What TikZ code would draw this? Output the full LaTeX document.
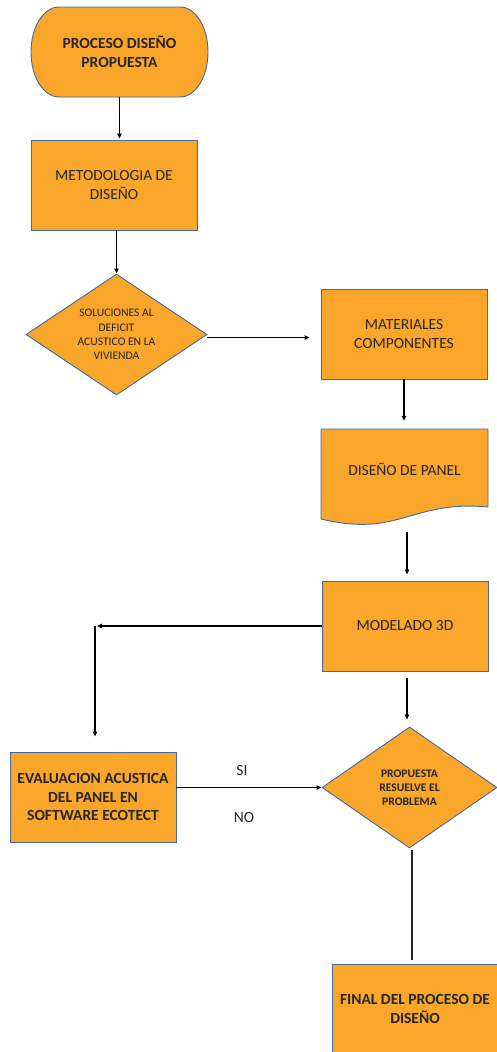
\documentclass[tikz,border=0pt]{standalone}
\usepackage{fontspec}
\setmainfont{Carlito}
\usetikzlibrary{shapes.geometric,arrows.meta}
\definecolor{boxfill}{RGB}{250,166,43}
\definecolor{boxline}{RGB}{68,104,160}
\definecolor{ink}{RGB}{38,38,38}
\newcommand\mainsz{\fontsize{15.5}{18.9}\selectfont}
\newcommand\smallsz{\fontsize{11.6}{14.2}\selectfont}
\tikzset{
  outline/.style={fill=boxfill, draw=boxline, line width=0.9pt},
  box/.style={rectangle, outline, minimum width=166pt, minimum height=90pt,
    inner sep=0pt, align=center, text=ink, font=\mainsz},
  boldbox/.style={box, font=\mainsz\bfseries},
  holder/.style={rectangle, inner sep=0pt, align=center, text=ink, font=\mainsz},
  choice/.style={diamond, outline, inner sep=0pt, aspect=1.5, align=center,
    text=ink, font=\smallsz},
  lbl/.style={inner sep=0pt, text=ink, font=\mainsz},
  flow/.style={draw=black, line width=1.2pt, -{Triangle[length=5pt,width=4.5pt]}},
  plain/.style={draw=black!85, line width=1.2pt},
}
\begin{document}
\begin{tikzpicture}[x=1pt,y=-1pt]
\useasboundingbox (0,0) rectangle (497,1052);
\clip (0,0) rectangle (497,1052);

% terminator outline for the start step
\path[outline] (59,7) -- (180,7)
  .. controls (195.5,7) and (208,27.1) .. (208,52)
  .. controls (208,76.9) and (195.5,97) .. (180,97) -- (59,97)
  .. controls (43.5,97) and (31,76.9) .. (31,52)
  .. controls (31,27.1) and (43.5,7) .. (59,7) -- cycle;

% document outline with wavy lower edge
\path[outline] (321,429) -- (488,429) -- (488,507)
  .. controls (410,500) and (400,538) .. (321,519) -- cycle;

% steps
\node[holder, font=\mainsz\bfseries, minimum width=177pt, minimum height=90pt] (start) at (119.5,52)
  {PROCESO DISEÑO\\PROPUESTA};
\node[box] (met) at (114,185) {METODOLOGIA DE\\DISEÑO};
\node[choice, minimum width=181pt, minimum height=121pt] (sol) at (116.5,334.5)
  {SOLUCIONES AL\\DEFICIT\\ACUSTICO EN LA\\VIVIENDA};
\node[box] (mat) at (404,334) {MATERIALES\\COMPONENTES};
\node[holder, minimum width=167pt, minimum height=80pt] (doc) at (404.5,469)
  {DISEÑO DE PANEL};
\node[box] (mod) at (405,626) {MODELADO 3D};
\node[choice, font=\smallsz\bfseries, minimum width=175pt, minimum height=121pt] (dec) at (409.5,787.5)
  {PROPUESTA\\RESUELVE EL\\PROBLEMA};
\node[boldbox] (eva) at (93,797) {EVALUACION ACUSTICA\\DEL PANEL EN\\SOFTWARE ECOTECT};
\node[boldbox] (fin) at (415,1009) {FINAL DEL PROCESO DE\\DISEÑO};

\node[lbl] (si) at (242,771) {SI};
\node[lbl] (no) at (244,818) {NO};

% connectors
\draw[flow, shorten >=1pt] (start.south) -- (start.south |- met.north);
\draw[flow] (sol.north |- met.south) -- (sol.north);
\draw[flow, shorten >=11pt] ([yshift=-3pt]sol.east) -- ([yshift=-3pt]sol.east -| mat.west);
\draw[flow, shorten >=8pt] (mat.south) -- (mat.south |- doc.north);
\draw[flow, shorten <=23pt, shorten >=6pt] ([xshift=2.5pt]doc.south) -- ([xshift=2.5pt]doc.south |- mod.north);
\draw[flow, shorten <=7pt, shorten >=7pt] ([xshift=2pt]mod.south) -- ([xshift=2pt]mod.south |- dec.north);
\coordinate (bend) at (95,626);
\draw[flow, shorten >=2pt] (mod.west) -- (bend);
\draw[flow, shorten >=15pt] (bend) -- (bend |- eva.north);
\draw[flow] (eva.east |- dec.west) -- (dec.west);
\draw[plain, shorten <=2pt, shorten >=4pt] ([xshift=2.5pt]dec.south) -- ([xshift=2.5pt]dec.south |- fin.north);
\end{tikzpicture}
\end{document}
